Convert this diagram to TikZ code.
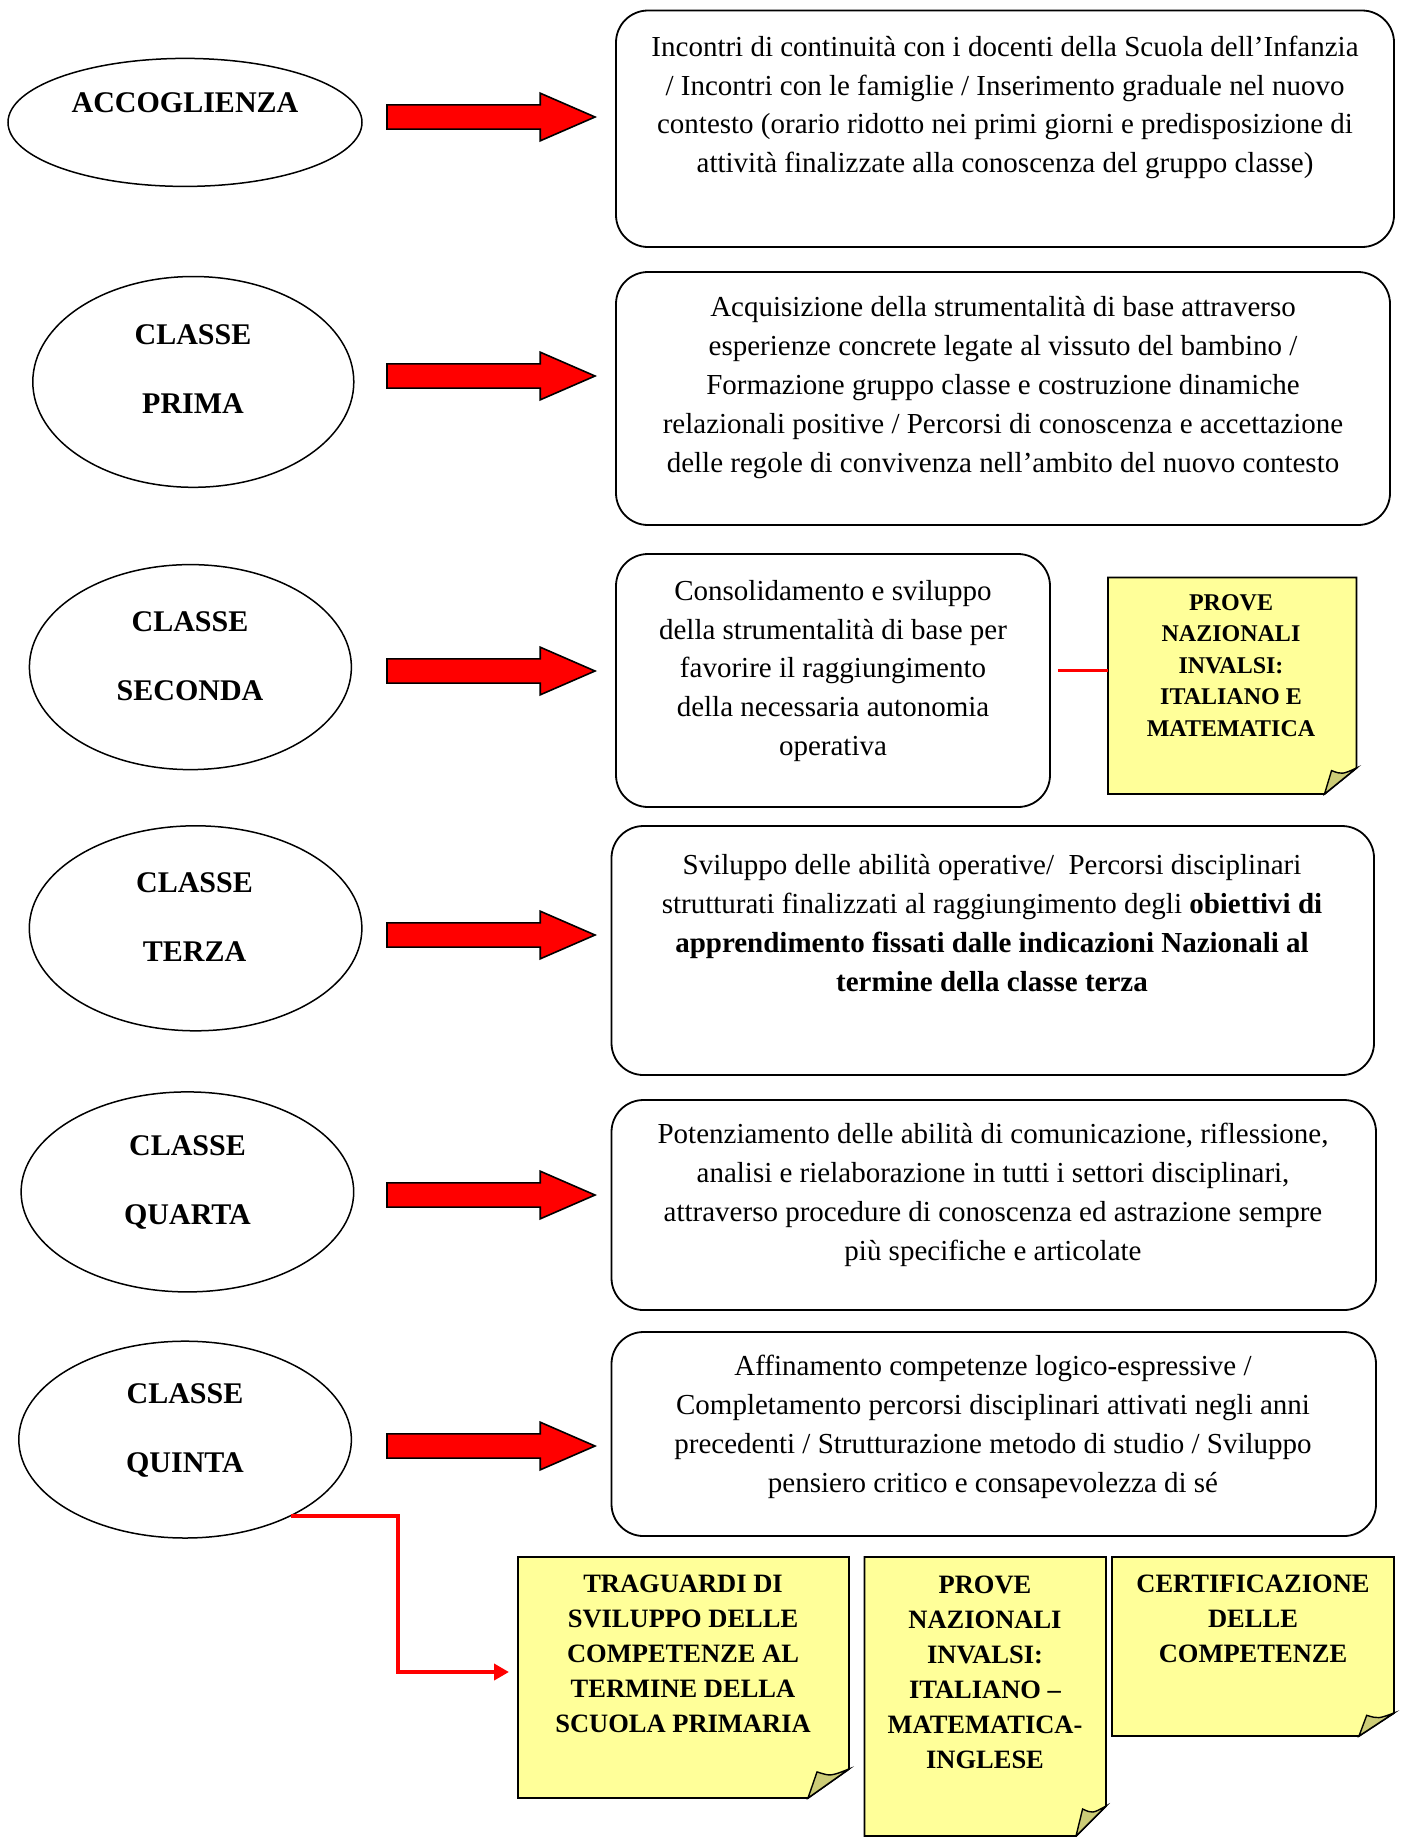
\documentclass[tikz,border=0pt]{standalone}
\usepackage{fontspec}
\setmainfont{Liberation Serif}
\usetikzlibrary{shapes.geometric,shapes.arrows,calc,backgrounds,arrows.meta}
\definecolor{noteyellow}{HTML}{FFFF99}
\definecolor{folddark}{HTML}{CCCC77}
\definecolor{pured}{HTML}{FF0000}
\tikzset{
  oval/.style={ellipse, draw, line width=0.75pt, inner sep=0pt},
  ovaltext/.style={font=\bfseries\fontsize{15}{34.5}\selectfont, align=center, inner sep=0pt},
  rbox/.style={draw, rounded corners=16pt, line width=0.9pt, inner sep=0pt, rectangle},
  boxtext/.style={font=\fontsize{14.5}{19.4}\selectfont, align=center, inner sep=0pt},
  blockarrow/.style={single arrow, draw=black, fill=pured, line width=0.8pt,
    text height=5.65pt, text depth=5.65pt,
    minimum height=104pt, minimum width=23pt, single arrow head extend=5.85pt,
    single arrow tip angle=47, inner sep=0pt, outer sep=0pt, anchor=tail},
  noteframe/.style={inner sep=0pt, outer sep=0pt, rectangle},
  notetext/.style={font=\bfseries\fontsize{13.25}{17.5}\selectfont, align=center, inner sep=0pt},
  smallnotetext/.style={font=\bfseries\fontsize{12}{15.8}\selectfont, align=center, inner sep=0pt},
  noteedge/.style={draw=black, line width=0.9pt, fill=noteyellow},
  foldedge/.style={draw=black, line width=0.7pt, fill=folddark},
  redlink/.style={draw=pured, line width=2pt},
  redthin/.style={draw=pured, line width=1.5pt},
}
\newcommand{\foldnote}[3]{%
  \begin{scope}[on background layer]
  \draw[noteedge] (#1.north west) -- (#1.north east) -- ($(#1.south east)+(0,-#3)$)
     -- ($(#1.south east)+(-#2,0)$) -- (#1.south west) -- cycle;
  \draw[foldedge] ($(#1.south east)+(-#2,0)$) -- ($(#1.south east)+(-0.78*#2,-0.9*#3)$)
     .. controls ($(#1.south east)+(-0.45*#2,-0.75*#3)$) .. ($(#1.south east)+(0,-#3)$) -- cycle;
  \end{scope}}
\begin{document}
\begin{tikzpicture}[x=0.5pt,y=-0.5pt]
\useasboundingbox (0,0) rectangle (1401,1837);

% ellipses
\node[oval, minimum width=177pt, minimum height=64pt] (e1) at (185,122.4) {};
\node[oval, minimum width=160.5pt, minimum height=105.4pt] (e2) at (193.3,381.9) {};
\node[oval, minimum width=161pt, minimum height=102.5pt] (e3) at (190.4,667.1) {};
\node[oval, minimum width=166.3pt, minimum height=102.5pt] (e4) at (195.6,928.3) {};
\node[oval, minimum width=166.3pt, minimum height=100pt] (e5) at (187.4,1191.9) {};
\node[oval, minimum width=166.3pt, minimum height=98.4pt] (e6) at (185.1,1439.6) {};

\node[ovaltext] (te1) at (185,103) {ACCOGLIENZA};
\node[ovaltext] (te2) at (193,369.5) {CLASSE\\PRIMA};
\node[ovaltext] (te3) at (190,656.5) {CLASSE\\SECONDA};
\node[ovaltext] (te4) at (194.5,917) {CLASSE\\TERZA};
\node[ovaltext] (te5) at (187.5,1182.5) {CLASSE\\QUARTA};
\node[ovaltext] (te6) at (185,1430.5) {CLASSE\\QUINTA};

% block arrows
\node[blockarrow] (a1) at (387,117) {};
\node[blockarrow] (a2) at (387,376) {};
\node[blockarrow] (a3) at (387,671) {};
\node[blockarrow] (a4) at (387,935) {};
\node[blockarrow] (a5) at (387,1195) {};
\node[blockarrow] (a6) at (387,1446) {};

% rounded boxes
\node[rbox, minimum width=389pt, minimum height=118.25pt] (b1) at (1005,128.75) {};
\node[rbox, minimum width=387pt, minimum height=126.5pt] (b2) at (1003,398.5) {};
\node[rbox, minimum width=217pt, minimum height=126.5pt] (b3) at (833,680.5) {};
\node[rbox, minimum width=381.25pt, minimum height=124.5pt] (b4) at (992.75,950.5) {};
\node[rbox, minimum width=382.25pt, minimum height=105pt] (b5) at (993.75,1205) {};
\node[rbox, minimum width=382.25pt, minimum height=102pt] (b6) at (993.75,1434) {};

\node[boxtext] (t1) at (1005,107.5) {Incontri di continuità con i docenti della Scuola dell’Infanzia\\
/ Incontri con le famiglie / Inserimento graduale nel nuovo\\
contesto (orario ridotto nei primi giorni e predisposizione di\\
attività finalizzate alla conoscenza del gruppo classe)};
\node[boxtext] (t2) at (1003,387.5) {Acquisizione della strumentalità di base attraverso\\
esperienze concrete legate al vissuto del bambino /\\
Formazione gruppo classe e costruzione dinamiche\\
relazionali positive / Percorsi di conoscenza e accettazione\\
delle regole di convivenza nell’ambito del nuovo contesto};
\node[boxtext] (t3) at (833,671) {Consolidamento e sviluppo\\
della strumentalità di base per\\
favorire il raggiungimento\\
della necessaria autonomia\\
operativa};
\node[boxtext] (t4) at (992,923) {Sviluppo delle abilità operative/\ \ Percorsi disciplinari\\
strutturati finalizzati al raggiungimento degli \textbf{obiettivi di}\\
\textbf{apprendimento fissati dalle indicazioni Nazionali al}\\
\textbf{termine della classe terza}};
\node[boxtext] (t5) at (993,1195) {Potenziamento delle abilità di comunicazione, riflessione,\\
analisi e rielaborazione in tutti i settori disciplinari,\\
attraverso procedure di conoscenza ed astrazione sempre\\
più specifiche e articolate};
\node[boxtext] (t6) at (993,1427) {Affinamento competenze logico-espressive /\\
Completamento percorsi disciplinari attivati negli anni\\
precedenti / Strutturazione metodo di studio / Sviluppo\\
pensiero critico e consapevolezza di sé};

% notes
\node[noteframe, minimum width=124.25pt, minimum height=108.25pt] (n3) at (1232.25,685.75) {};
\foldnote{n3}{32}{26}
\node[smallnotetext] (tn3) at (1231,665.5) {PROVE\\NAZIONALI\\INVALSI:\\ITALIANO E\\MATEMATICA};

\node[noteframe, minimum width=165.5pt, minimum height=120.5pt] (nA) at (683.5,1677.5) {};
\foldnote{nA}{41}{29}
\node[notetext] (tA) at (683,1654) {TRAGUARDI DI\\SVILUPPO DELLE\\COMPETENZE AL\\TERMINE DELLA\\SCUOLA PRIMARIA};

\node[noteframe, minimum width=120.75pt, minimum height=139.5pt] (nB) at (985.25,1696.5) {};
\foldnote{nB}{30}{30}
\node[notetext] (tB) at (985,1672.5) {PROVE\\NAZIONALI\\INVALSI:\\ITALIANO –\\MATEMATICA-\\INGLESE};

\node[noteframe, minimum width=141pt, minimum height=89.5pt] (nC) at (1253,1646.5) {};
\foldnote{nC}{35}{23}
\node[notetext] (tC) at (1253,1619) {CERTIFICAZIONE\\DELLE\\COMPETENZE};

% connectors
\draw[redthin] ([xshift=3.5pt,yshift=5.25pt]b3.east) -- ([yshift=5.25pt]b3.east -| n3.west);
\coordinate (bend) at (398,1672);
\draw[redlink, -{Triangle[length=7.5pt,width=8pt]}, shorten >=4.5pt] (e6.-36.5) -| (bend) -- (nA.west |- bend);
\end{tikzpicture}
\end{document}
